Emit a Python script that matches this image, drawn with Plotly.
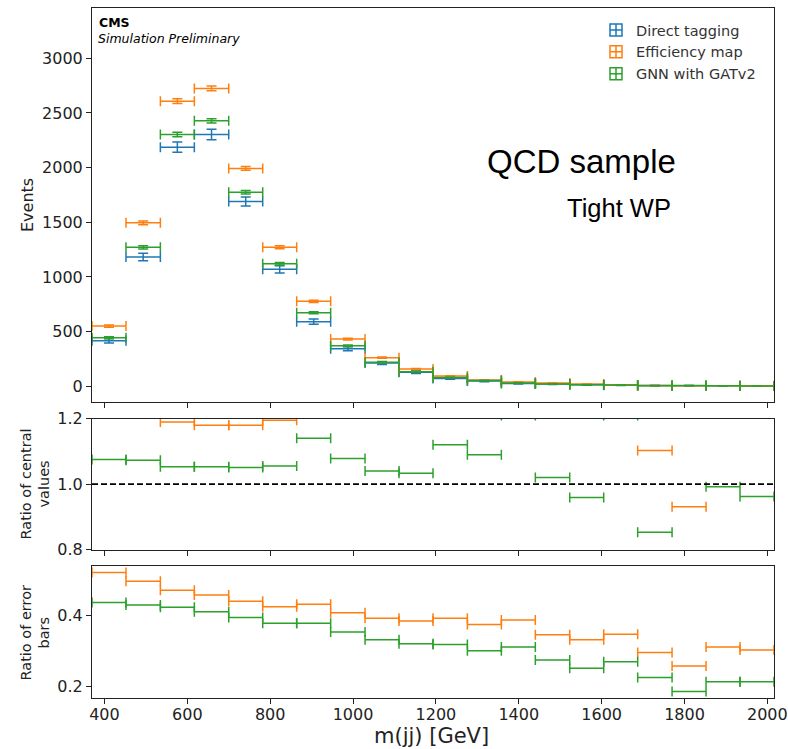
import plotly.graph_objects as go

# m(jj) binning [GeV]
bin_edges = [370, 452, 535, 617, 700, 782, 864, 946, 1029, 1111, 1193,
             1276, 1358, 1440, 1523, 1605, 1687, 1770, 1852, 1934, 2016]

# Event yields per bin
direct_tagging = [417, 1182, 2187, 2303, 1690, 1070, 591, 344, 213, 128,
                  72, 48, 26, 20, 14, 10, 6.5, 5, 4, 3]
efficiency_map = [551, 1495, 2608, 2724, 1993, 1271, 777, 432, 262, 158,
                  94, 58, 39, 30, 20, 13, 7.2, 4.7, 5, 4]
gnn_gatv2 = [444, 1271, 2303, 2428, 1775, 1121, 673, 371, 219, 134,
             80, 52, 31, 20, 13.4, 12, 5.5, 6.5, 4, 2.9]

# Statistical uncertainty of the direct-tagging yields
direct_tagging_err = [20.4, 34.4, 46.8, 48, 41, 32.7, 24.3, 18.5, 14.6, 11.3,
                      8.5, 6.9, 5.1, 4.5, 3.7, 3.2, 2.5, 2.2, 2.0, 1.7]

# Ratio of central values to direct tagging
ratio_central_effmap = [1.32, 1.265, 1.19, 1.18, 1.18, 1.195, 1.31, 1.26, 1.25, 1.24,
                        1.30, 1.22, 1.50, 1.50, 1.40, 1.30, 1.103, 0.931, 1.30, 1.30]
ratio_central_gnn = [1.075, 1.073, 1.053, 1.053, 1.051, 1.055, 1.14, 1.078, 1.04, 1.033,
                     1.12, 1.09, 1.21, 1.02, 0.959, 1.21, 0.853, 1.30, 0.992, 0.962]

# Ratio of error bars to direct tagging
ratio_err_effmap = [0.522, 0.497, 0.472, 0.458, 0.441, 0.425, 0.432, 0.408, 0.393, 0.385,
                    0.393, 0.375, 0.388, 0.346, 0.332, 0.348, 0.296, 0.258, 0.312, 0.303]
ratio_err_gnn = [0.437, 0.430, 0.424, 0.411, 0.395, 0.379, 0.379, 0.354, 0.332, 0.321,
                 0.319, 0.301, 0.312, 0.275, 0.252, 0.270, 0.226, 0.186, 0.214, 0.214]

x_ticks = [400, 600, 800, 1000, 1200, 1400, 1600, 1800, 2000]

BLUE, ORANGE, GREEN = "#1f77b4", "#ff7f0e", "#2ca02c"
FONT = "DejaVu Sans"
AXC = "#222222"

centers = [(a + b) / 2 for a, b in zip(bin_edges[:-1], bin_edges[1:])]
half_w = [(b - a) / 2 for a, b in zip(bin_edges[:-1], bin_edges[1:])]

effmap_err = [e * r for e, r in zip(direct_tagging_err, ratio_err_effmap)]
gnn_err = [e * r for e, r in zip(direct_tagging_err, ratio_err_gnn)]

W, H = 788, 749
ML, MR, MT, MB = 92, 14, 8, 51
PW, PH = W - ML - MR, H - MT - MB


def px(x):
    return (x - ML) / PW


def py(y):
    return (H - MB - y) / PH


fig = go.Figure()


def add_hist(x, y, yerr, color, xa, ya, show_y=True):
    fig.add_trace(go.Scatter(
        x=x, y=y, mode="markers", xaxis=xa, yaxis=ya, showlegend=False,
        marker=dict(size=0.1, color=color, opacity=0),
        error_x=dict(type="data", array=half_w, symmetric=True, color=color,
                     thickness=1.5, width=5),
        error_y=dict(type="data", array=yerr, symmetric=True, color=color,
                     thickness=1.5, width=5, visible=show_y),
        hoverinfo="skip",
    ))


# Main panel: yields
add_hist(centers, direct_tagging, direct_tagging_err, BLUE, "x", "y")
add_hist(centers, efficiency_map, effmap_err, ORANGE, "x", "y")
add_hist(centers, gnn_gatv2, gnn_err, GREEN, "x", "y")

# Legend entries
for name, color in [("Direct tagging", BLUE), ("Efficiency map", ORANGE),
                    ("GNN with GATv2", GREEN)]:
    fig.add_trace(go.Scatter(
        x=[None], y=[None], mode="markers", name=name, xaxis="x", yaxis="y",
        marker=dict(symbol="square-cross-open", size=12, color=color,
                    line=dict(width=1.5, color=color)),
    ))

# Ratio of central values
add_hist(centers, ratio_central_effmap, None, ORANGE, "x2", "y2", show_y=False)
add_hist(centers, ratio_central_gnn, None, GREEN, "x2", "y2", show_y=False)

# Ratio of error bars
add_hist(centers, ratio_err_effmap, None, ORANGE, "x3", "y3", show_y=False)
add_hist(centers, ratio_err_gnn, None, GREEN, "x3", "y3", show_y=False)

# Reference line at unity
fig.add_shape(type="line", xref="x2", yref="y2", x0=bin_edges[0], x1=bin_edges[-1],
              y0=1, y1=1, line=dict(color="black", width=1.6, dash="6px,3px"))

tickfont = dict(family=FONT, size=16, color=AXC)
common_axis = dict(showline=True, linecolor=AXC, linewidth=1, mirror=True,
                   ticks="outside", ticklen=5, tickwidth=1, tickcolor=AXC,
                   showgrid=False, zeroline=False, tickfont=tickfont,
                   automargin=False)

xcommon = dict(common_axis, range=[bin_edges[0], bin_edges[-1]],
               tickvals=x_ticks)

d_main = [py(401.5), 1.0]
d_r1 = [py(549.5), py(418.7)]
d_r2 = [0.0, py(566)]

fig.update_layout(
    width=W, height=H,
    margin=dict(l=ML, r=MR, t=MT, b=MB, autoexpand=False),
    paper_bgcolor="white", plot_bgcolor="white",
    font=dict(family=FONT, color=AXC),
    xaxis=dict(xcommon, anchor="y", showticklabels=False, domain=[0, 1]),
    yaxis=dict(common_axis, anchor="x", domain=d_main, range=[-139, 3460],
               tickvals=[0, 500, 1000, 1500, 2000, 2500, 3000]),
    xaxis2=dict(xcommon, anchor="y2", showticklabels=False, matches="x", domain=[0, 1]),
    yaxis2=dict(common_axis, anchor="x2", domain=d_r1, range=[0.8, 1.2],
                tickvals=[0.8, 1.0, 1.2], ticktext=["0.8", "1.0", "1.2"]),
    xaxis3=dict(xcommon, anchor="y3", matches="x", domain=[0, 1],
                ticklabelstandoff=-3),
    yaxis3=dict(common_axis, anchor="x3", domain=d_r2, range=[0.168, 0.540],
                tickvals=[0.2, 0.4], ticktext=["0.2", "0.4"]),
    legend=dict(x=px(596), y=py(14), xanchor="left", yanchor="top",
                bgcolor="rgba(0,0,0,0)", font=dict(family=FONT, size=14.5, color="#333333")),
    showlegend=True,
)

annotations = [
    dict(text="<b>CMS</b>", x=px(97), y=py(22.7), xanchor="left", yanchor="middle",
         font=dict(family=FONT, size=12.5, color="black")),
    dict(text="<i>Simulation Preliminary</i>", x=px(96), y=py(38.3), xanchor="left",
         yanchor="middle", font=dict(family=FONT, size=12.5, color="black")),
    dict(text="QCD sample", x=px(581), y=py(161), xanchor="center", yanchor="middle",
         font=dict(family="Liberation Sans", size=33, color="black")),
    dict(text="Tight WP", x=px(619), y=py(208), xanchor="center", yanchor="middle",
         font=dict(family="Liberation Sans", size=25.5, color="black")),
    dict(text="Events", x=px(27), y=py(205), xanchor="center", yanchor="middle",
         textangle=-90, font=dict(family=FONT, size=16, color=AXC)),
    dict(text="Ratio of central<br>values", x=px(34.5), y=py(484), xanchor="center",
         yanchor="middle", textangle=-90,
         font=dict(family=FONT, size=14.5, color=AXC)),
    dict(text="Ratio of error<br>bars", x=px(34.5), y=py(633), xanchor="center",
         yanchor="middle", textangle=-90,
         font=dict(family=FONT, size=14.5, color=AXC)),
    dict(text="m(jj) [GeV]", x=px(431), y=py(736), xanchor="center", yanchor="middle",
         font=dict(family=FONT, size=21, color=AXC)),
]
for a in annotations:
    a.update(xref="paper", yref="paper", showarrow=False)
fig.update_layout(annotations=annotations)

fig.write_html("out.html")
